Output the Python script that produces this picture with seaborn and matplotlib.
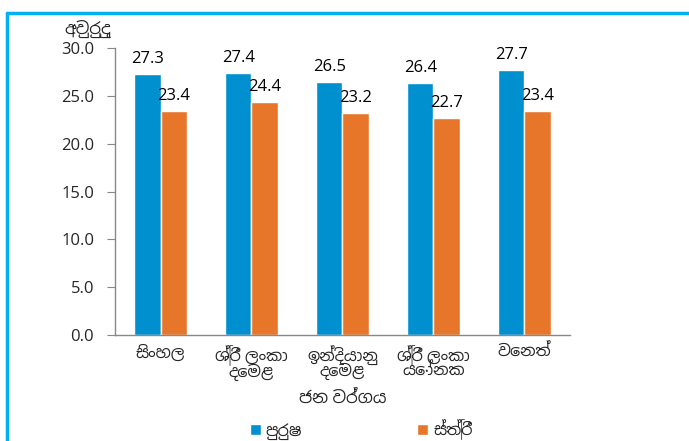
import matplotlib.pyplot as plt
import pandas as pd
import seaborn as sns
from matplotlib import font_manager
from matplotlib.lines import Line2D

# Data
groups = ["සිංහල", "ශ්‍රී ලංකා\nදෙමළ", "ඉන්දියානු\nදෙමළ", "ශ්‍රී ලංකා\nයෝනක", "වෙනත්"]
series = ["පුරුෂ", "ස්ත්‍රී"]
male = [27.3, 27.4, 26.5, 26.4, 27.7]
female = [23.4, 24.4, 23.2, 22.7, 23.4]
y_ticks = [0, 5, 10, 15, 20, 25, 30]

df = pd.DataFrame({
    "group": groups * 2,
    "sex": [series[0]] * len(groups) + [series[1]] * len(groups),
    "value": male + female,
})

sns.set_style("white")

# Latin digits from Open Sans, Sinhala glyphs from whatever font has them
sinhala = [f.name for f in font_manager.fontManager.ttflist
           if "sinhala" in f.name.lower() or "iskoola" in f.name.lower()
           or "lohit" in f.name.lower()]
families = ["Open Sans"] + sorted(set(sinhala)) + ["DejaVu Sans"]
plt.rcParams["font.family"] = families

fig = plt.figure(figsize=(6.89, 4.41), dpi=100)
ax = fig.add_axes([0.167, 0.240, 0.660, 0.651])

sns.barplot(data=df, x="group", y="value", hue="sex",
            palette=["#0090D0", "#E8762A"], width=0.58, saturation=1,
            ax=ax)

for cont in ax.containers:
    ax.bar_label(cont, fmt="%.1f", padding=5, fontsize=12, color="black")

ax.set_ylim(0, 30)
ax.set_yticks(y_ticks)
ax.set_yticklabels([f"{v:.1f}" for v in y_ticks], fontsize=12)
ax.tick_params(axis="y", length=6, color="#888888", direction="out",
               left=True, pad=9)
ax.tick_params(axis="x", length=0, labelsize=11.5, pad=7)
for lab in ax.get_xticklabels():
    lab.set_linespacing(0.85)

for side in ["top", "right"]:
    ax.spines[side].set_visible(False)
for side in ["left", "bottom"]:
    ax.spines[side].set_color("#888888")
    ax.spines[side].set_linewidth(1)

ax.set_ylabel("")
ax.set_xlabel("ජන වර්ගය", fontsize=12, fontweight="bold", va="center")
ax.xaxis.set_label_coords(0.5, -0.22)
ax.text(-0.06, 1.066, "අවුරුදු", transform=ax.transAxes, fontsize=12,
        fontweight="bold", ha="center", va="center")

handles, labels = ax.get_legend_handles_labels()
ax.get_legend().remove()
fig.legend(handles, labels, loc="center", bbox_to_anchor=(0.524, 0.025),
           ncol=2, frameon=False, handlelength=0.7, handleheight=0.7,
           handletextpad=0.3, columnspacing=7.2, fontsize=11.5)

# outer frame lines
fig.add_artist(Line2D([0.0105, 0.0105], [0, 0.971], transform=fig.transFigure,
                      color="#00B0F0", lw=2.5))
fig.add_artist(Line2D([0.0105, 1.0], [0.971, 0.971], transform=fig.transFigure,
                      color="#00B0F0", lw=2.5))

fig.savefig("out.png", dpi=100)
